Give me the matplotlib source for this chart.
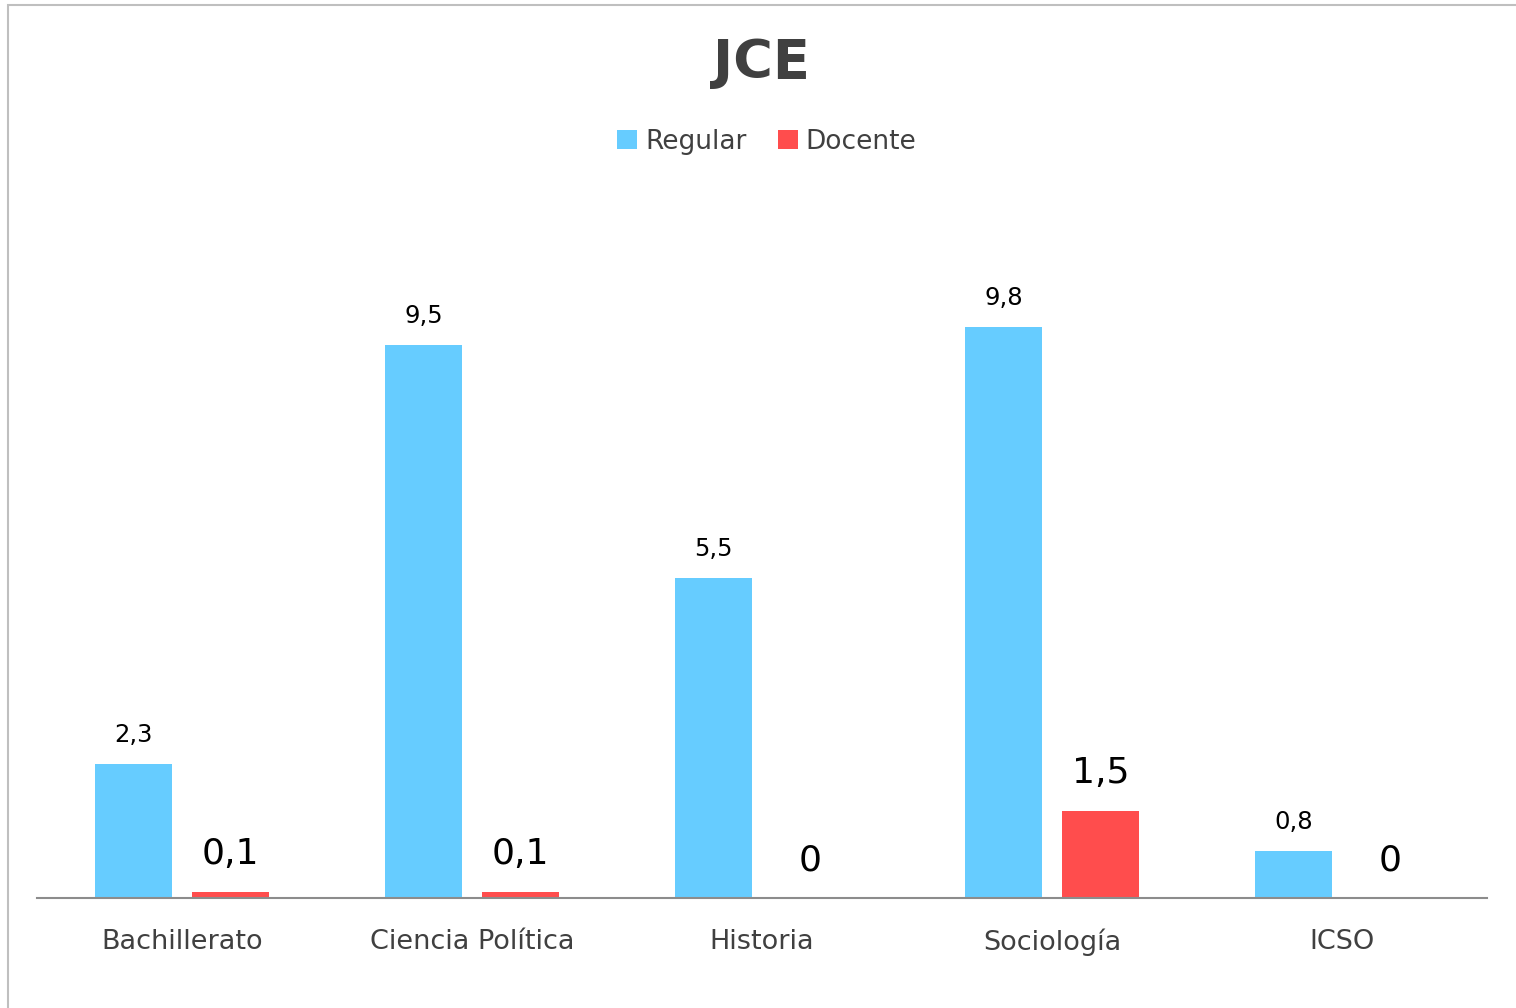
import matplotlib.pyplot as plt
import numpy as np
from matplotlib.patches import Rectangle

# Data
categories = ["Bachillerato", "Ciencia Política", "Historia", "Sociología", "ICSO"]
regular = [2.3, 9.5, 5.5, 9.8, 0.8]
docente = [0.1, 0.1, 0.0, 1.5, 0.0]

blue = "#66CCFF"
red = "#FF4D4D"
gray_text = "#404040"

plt.rcParams['font.family'] = ['DejaVu Sans']

fig = plt.figure(figsize=(15.16, 10.08), dpi=100)
ax = fig.add_axes([0.0244, 0.1091, 0.9565, 0.6528])

x = np.arange(len(categories))
w = 0.266
b1 = ax.bar(x - 0.167, regular, w, color=blue, label="Regular")
b2 = ax.bar(x + 0.167, docente, w, color=red, label="Docente")


def fmt(v):
    s = "%g" % v
    return s.replace(".", ",")


for rect, v in zip(b1, regular):
    ax.annotate(fmt(v), (rect.get_x() + rect.get_width() / 2, v),
                xytext=(0, 16), textcoords="offset points",
                ha="center", va="baseline", fontsize=17.5, color="black")
for rect, v in zip(b2, docente):
    ax.annotate(fmt(v), (rect.get_x() + rect.get_width() / 2, v),
                xytext=(0, 20), textcoords="offset points",
                ha="center", va="baseline", fontsize=26, color="black")

ax.set_xlim(-0.5, len(categories) - 0.5)
ax.set_ylim(0, 11.3)
ax.set_xticks(x)
ax.set_xticklabels(categories, fontsize=19.5, color=gray_text)
ax.tick_params(axis="x", length=0, pad=22)
ax.set_yticks([])
for s in ["top", "right", "left"]:
    ax.spines[s].set_visible(False)
ax.spines["bottom"].set_color("#8C8C8C")
ax.spines["bottom"].set_linewidth(1.5)

fig.text(761 / 1516, 1 - 63 / 1008, "JCE", fontsize=39, fontweight="bold",
         color=gray_text, ha="center", va="center")

fig.legend(handles=[b1, b2], labels=["Regular", "Docente"], loc="center",
           bbox_to_anchor=(767 / 1516, 1 - 142 / 1008), ncol=2, frameon=False,
           fontsize=19, labelcolor=gray_text, handlelength=0.75, handleheight=0.75,
           handletextpad=0.3, columnspacing=1.2)

# outer chart frame
fig.patches.append(Rectangle((8 / 1516, -0.01), 1.0, 1 - 5 / 1008 + 0.01,
                             transform=fig.transFigure, fill=False,
                             edgecolor="#BFBFBF", linewidth=1.5))

fig.savefig("out.png", dpi=100)
